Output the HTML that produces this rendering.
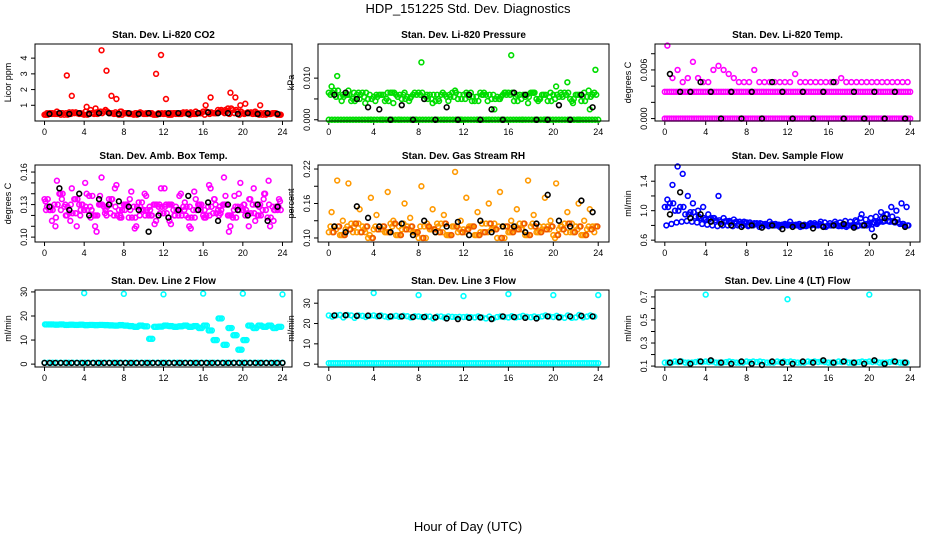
<!DOCTYPE html>
<html><head><meta charset="utf-8">
<style>
html,body{margin:0;padding:0;background:#fff;}
svg{display:block;font-family:"Liberation Sans",Arial,sans-serif;}
</style></head>
<body>
<svg id="chart" width="936" height="540" viewBox="0 0 936 540">
<text x="468" y="13" text-anchor="middle" font-size="13">HDP_151225  Std. Dev. Diagnostics</text>
<text x="468" y="531" text-anchor="middle" font-size="13">Hour of Day (UTC)</text>
</svg>
<script>
const xTicks=[0,4,8,12,16,20,24];
// Panel 1 CO2
const co2Color=[0.5,0.45,0.6,0.5,2.9,1.6,0.5,0.45,0.9,0.5,0.55,4.5,3.2,1.6,1.4,0.6,0.5,0.45,0.5,0.5,0.5,0.45,3.0,4.2,1.4,0.5,0.45,0.5,0.5,0.55,0.6,0.5,1.0,1.5,0.5,0.6,0.7,1.8,1.5,1.0,1.1,0.5,0.6,1.0,0.5,0.45,0.5,0.4];
const co2Band=[0.4,0.5,0.45,0.5,0.4,0.55,0.5,0.45,0.4,0.5,0.45,0.5,0.6,0.5,0.45,0.4,0.5,0.45,0.4,0.5,0.45,0.5,0.4,0.5,0.45,0.4,0.5,0.45,0.55,0.5,0.45,0.5,0.6,0.55,0.5,0.7,0.6,0.8,0.7,0.6,0.5,0.55,0.45,0.5,0.4,0.45,0.5,0.4];
const co2Black=[0.45,0.5,0.45,0.5,0.45,0.5,0.5,0.45,0.5,0.45,0.5,0.45,0.5,0.5,0.45,0.5,0.55,0.5,0.5,0.45,0.5,0.45,0.5,0.45];
// Panel 2 pressure
const presColor=[0.008,0.0105,0.006,0.007,0.0065,0.005,0.004,0.0,0.006,0.0,0.0065,0.004,0.0,0.0065,0.0052,0.0,0.0138,0.006,0.004,0.005,0.0,0.006,0.007,0.0,0.0065,0.0045,0.0,0.006,0.0,0.0025,0.005,0.0065,0.0155,0.006,0.0,0.004,0.0065,0.005,0.0,0.0065,0.008,0.006,0.009,0.004,0.0,0.0065,0.0025,0.012];
const presBand=[0.0065,0.007,0.0055,0.006,0.0045,0.006,0.0065,0.005,0.0055,0.006,0.0045,0.0065,0.006,0.005,0.0055,0.006,0.0065,0.005,0.006,0.0045,0.006,0.0055,0.0065,0.005,0.006,0.0055,0.0045,0.0065,0.006,0.005,0.0055,0.006,0.0065,0.0045,0.006,0.0055,0.0065,0.005,0.006,0.0045,0.006,0.0055,0.0065,0.005,0.006,0.0045,0.0055,0.006];
const presBlack=[0.006,0.0065,0.005,0.003,0.0025,0.0,0.0035,0.0,0.005,0.0,0.003,0.0,0.006,0.0,0.0025,0.0,0.0065,0.006,0.0,0.0,0.0035,0.0,0.006,0.003];
// Panel 3 Li-820 temp
const tempColor=[0.009,0.005,0.006,0.0045,0.005,0.007,0.005,0.0045,0.0045,0.006,0.0065,0.006,0.0055,0.005,0.0045,0.0045,0.0045,0.006,0.0045,0.0045,0.0045,0.0045,0.0045,0.0045,0.0045,0.0055,0.0045,0.0045,0.0045,0.0045,0.0045,0.0045,0.0045,0.0045,0.005,0.0045,0.0045,0.0045,0.0045,0.0045,0.0045,0.0045,0.0045,0.0045,0.0045,0.0045,0.0045,0.0045];
const tempBandA=[0.0033];
const tempBandB=[0.0];
const tempBlack=[0.0055,0.0033,0.0033,0.0045,0.0033,0.0,0.0033,0.0,0.0033,0.0,0.0045,0.0033,0.0,0.0033,0.0,0.0033,0.0045,0.0,0.0033,0.0,0.0033,0.0,0.0033,0.0];
// Panel 4 amb box temp
const boxColor=[0.128,0.115,0.152,0.135,0.12,0.145,0.11,0.13,0.14,0.125,0.105,0.155,0.12,0.135,0.148,0.118,0.13,0.142,0.11,0.125,0.138,0.12,0.115,0.145,0.13,0.112,0.128,0.14,0.12,0.108,0.135,0.125,0.118,0.145,0.13,0.122,0.138,0.11,0.128,0.15,0.12,0.135,0.115,0.13,0.14,0.11,0.125,0.133];
const boxBand=[0.135,0.125,0.13,0.14,0.128,0.122,0.135,0.13,0.125,0.138,0.12,0.13,0.128,0.135,0.12,0.125,0.13,0.118,0.128,0.132,0.125,0.12,0.13,0.128,0.122,0.13,0.125,0.12,0.128,0.118,0.125,0.13,0.12,0.128,0.122,0.125,0.13,0.12,0.118,0.128,0.125,0.122,0.13,0.12,0.125,0.118,0.128,0.125];
const boxBlack=[0.128,0.145,0.125,0.14,0.12,0.135,0.13,0.133,0.128,0.125,0.105,0.12,0.118,0.125,0.138,0.125,0.132,0.115,0.13,0.125,0.12,0.13,0.115,0.128];
// Panel 5 RH
const rhColor=[0.145,0.2,0.13,0.195,0.12,0.15,0.11,0.17,0.14,0.115,0.18,0.13,0.12,0.16,0.135,0.11,0.19,0.125,0.15,0.12,0.14,0.105,0.215,0.13,0.17,0.12,0.145,0.11,0.16,0.125,0.18,0.12,0.13,0.15,0.115,0.2,0.14,0.12,0.17,0.13,0.195,0.12,0.145,0.11,0.16,0.13,0.15,0.12];
const rhBand=[0.11,0.12,0.105,0.115,0.125,0.11,0.12,0.1,0.115,0.12,0.11,0.125,0.105,0.115,0.12,0.11,0.1,0.12,0.115,0.11,0.125,0.105,0.12,0.11,0.115,0.12,0.105,0.11,0.125,0.115,0.1,0.12,0.11,0.115,0.125,0.105,0.12,0.11,0.115,0.12,0.105,0.115,0.125,0.11,0.12,0.105,0.115,0.12];
const rhBlack=[0.12,0.11,0.155,0.135,0.12,0.11,0.125,0.105,0.13,0.11,0.12,0.128,0.105,0.13,0.11,0.12,0.12,0.11,0.125,0.175,0.13,0.12,0.165,0.145];
// Panel 6 sample flow
const flowColor=[1.15,1.35,1.6,1.5,1.2,1.1,1.0,1.05,0.95,0.9,1.2,0.9,0.85,0.88,0.82,0.85,0.8,0.83,0.78,0.8,0.85,0.8,0.78,0.82,0.85,0.8,0.78,0.8,0.83,0.8,0.85,0.78,0.8,0.82,0.8,0.78,0.8,0.85,0.95,0.8,0.75,0.82,0.9,0.95,0.92,0.88,0.82,0.8];
const flowBand=[1.05,1.1,1.0,1.05,0.95,0.98,0.92,0.9,0.88,0.9,0.87,0.85,0.86,0.84,0.85,0.83,0.84,0.82,0.83,0.82,0.81,0.82,0.8,0.81,0.8,0.81,0.8,0.79,0.8,0.81,0.8,0.79,0.8,0.8,0.79,0.8,0.8,0.79,0.8,0.81,0.82,0.84,0.85,0.86,0.85,0.84,0.82,0.8];
const flowBlack=[0.95,1.25,0.9,0.95,0.85,0.82,0.8,0.78,0.8,0.77,0.8,0.75,0.78,0.8,0.76,0.78,0.8,0.82,0.77,0.8,0.65,0.9,0.85,0.78];
// Panel 7 line 2
const l2Color=[16.5,16.5,16.4,16.5,16.3,16.4,16.3,16.4,16.2,16.3,16.2,16.3,16.2,16.1,16,16.2,16,15.8,15.5,16,15.7,10.5,15.5,15.6,16,15.8,15.5,15.7,16,15.5,15.8,15,16,14,10,19,8,15,12,6,10,16,15,16,15.5,16,15,15.5];
const l2Out=[4,8,12,16,20,24];
const l2OutVal=[29.5,29.2,29,29.3,29.3,29];
const l2Black=[0.5];
// Panel 8 line 3
const l3Color=[24,24.2,24,23.8,24,23.5,23.8,23.6,23.5,23.4,23.5,23.3,23.2,23,22.5,23.2,23,23.3,23.1,23.5,23.2,22.8,23,23.4];
const l3OutVal=[35,34,33.5,34.5,34,34];
const l3Black=[24,24.1,23.8,23.9,23.7,23.5,23.5,23.2,23.2,23,22.5,22.2,22.8,23,22.2,23.5,23.2,22.8,22.5,23.5,23,23.5,23.8,23.5];
const l3Zero=[0.5];
// Panel 9 line 4
const l4Color=[0.13,0.14,0.13,0.135,0.14,0.13,0.135,0.13,0.14,0.135,0.13,0.14,0.135,0.13,0.14,0.135,0.13,0.14,0.13,0.135,0.14,0.13,0.135,0.13];
const l4OutHours=[4,12,20];
const l4OutVal=[0.72,0.68,0.72];
const l4Black=[0.13,0.14,0.12,0.14,0.15,0.13,0.12,0.14,0.12,0.11,0.14,0.13,0.12,0.14,0.13,0.15,0.13,0.14,0.13,0.12,0.15,0.12,0.14,0.13];

const svg=document.getElementById('chart');
const NS='http://www.w3.org/2000/svg';
function mk(tag,attrs,parent){const e=document.createElementNS(NS,tag);for(const k in attrs)e.setAttribute(k,attrs[k]);(parent||svg).appendChild(e);return e;}

const cols=[[35,292],[318,609],[655,920]];
const rows=[[44,121],[165,242],[290,367]];
const panels=[
 {t:'Stan. Dev. Li-820 CO2',yl:'Licor ppm',c:0,r:0,y0:0,y1:4.9,ticks:[1,2,3,4],labels:['1','2','3','4'],col:'#ff0000'},
 {t:'Stan. Dev. Li-820 Pressure',yl:'kPa',c:1,r:0,y0:-0.0003,y1:0.0182,ticks:[0,0.005,0.010],labels:['0.000','','0.010'],col:'#00dd00'},
 {t:'Stan. Dev. Li-820 Temp.',yl:'degrees C',c:2,r:0,y0:-0.0003,y1:0.0092,ticks:[0,0.002,0.004,0.006,0.008],labels:['0.000','','','0.006',''],col:'#ff00ff'},
 {t:'Stan. Dev. Amb. Box Temp.',yl:'degrees C',c:0,r:1,y0:0.0955,y1:0.1665,ticks:[0.10,0.11,0.12,0.13,0.14,0.15,0.16],labels:['0.10','','','0.13','','','0.16'],col:'#ff00ff'},
 {t:'Stan. Dev. Gas Stream RH',yl:'percent',c:1,r:1,y0:0.093,y1:0.227,ticks:[0.10,0.13,0.16,0.19,0.22],labels:['0.10','','0.16','','0.22'],col:'#ff9900'},
 {t:'Stan. Dev. Sample Flow',yl:'ml/min',c:2,r:1,y0:0.575,y1:1.62,ticks:[0.6,0.8,1.0,1.2,1.4],labels:['0.6','','1.0','','1.4'],col:'#0000ff'},
 {t:'Stan. Dev. Line 2 Flow',yl:'ml/min',c:0,r:2,y0:-1.2,y1:30.8,ticks:[0,10,20,30],labels:['0','10','20','30'],col:'#00ffff'},
 {t:'Stan. Dev. Line 3 Flow',yl:'ml/min',c:1,r:2,y0:-1.4,y1:36.5,ticks:[0,10,20,30],labels:['0','10','20','30'],col:'#00ffff'},
 {t:'Stan. Dev. Line 4 (LT) Flow',yl:'ml/min',c:2,r:2,y0:0.092,y1:0.76,ticks:[0.1,0.2,0.3,0.4,0.5,0.6,0.7],labels:['0.1','','0.3','','0.5','','0.7'],col:'#00ffff'}
];
panels.forEach((p,pi)=>{
 const [L,R]=cols[p.c],[T,B]=rows[p.r];
 p.sx=h=>L+(R-L)*(h+0.96)/25.92;
 p.sy=v=>B-(B-T)*(v-p.y0)/(p.y1-p.y0);
 const g=mk('g',{});
 
 
 p.g=g;
 const tt=mk('text',{x:(L+R)/2,y:T-6,'text-anchor':'middle','font-size':10,'font-weight':'bold'},g);tt.textContent=p.t;
 
 
 const yt=mk('text',{transform:`translate(${L-24},${(T+B)/2}) rotate(-90)`,'text-anchor':'middle','font-size':9},g);yt.textContent=p.yl;
 
 
 xTicks.forEach(h=>{const x=p.sx(h);mk('line',{x1:x,x2:x,y1:B,y2:B+4,stroke:'#000'},g);
  const t=mk('text',{x:x,y:B+14,'text-anchor':'middle','font-size':9},g);t.textContent=h;
  
  });
 p.ticks.forEach((v,i)=>{const y=p.sy(v);mk('line',{x1:L-4,x2:L,y1:y,y2:y,stroke:'#000'},g);
  if(p.labels[i]){const t=mk('text',{transform:`translate(${L-8},${y}) rotate(-90)`,'text-anchor':'middle','font-size':9},g);t.textContent=p.labels[i];
  
  }});
});
function pts(p,hours,vals,color,name){
 hours.forEach((h,i)=>{
  const c=mk('circle',{cx:p.sx(h),cy:p.sy(vals[i]),r:2.4,fill:'none',stroke:color,'stroke-width':1.6},p.g);
  
  
 });
}
function series(p,vals,color,name,off){
 const n=vals.length;const hrs=vals.map((v,i)=>24*(i+(off===undefined?0.5:off))/n);pts(p,hrs,vals,color,name);
}
function dense(p,band,color,name){
 series(p,band,color,name,0.0);
 series(p,band.slice().reverse(),color,name,0.3);
 series(p,band,color,name,0.65);
}
function band(p,val,color,name,n){
 const hrs=[],vs=[];for(let i=0;i<n;i++){hrs.push(24*i/(n-1));vs.push(val);}pts(p,hrs,vs,color,name);
}
const P=panels;
dense(P[0],co2Band,P[0].col,'co2-point');series(P[0],co2Color,P[0].col,'co2-point');series(P[0],co2Black,'#000','co2-black-point');
dense(P[1],presBand,P[1].col,'pressure-point');series(P[1],presColor,P[1].col,'pressure-point');band(P[1],0,P[1].col,'pressure-point',90);series(P[1],presBlack,'#000','pressure-black-point');
band(P[2],tempBandA[0],P[2].col,'temp-point',110);band(P[2],tempBandB[0],P[2].col,'temp-point',110);series(P[2],tempColor,P[2].col,'temp-point');series(P[2],tempBlack,'#000','temp-black-point');
dense(P[3],boxBand,P[3].col,'box-temp-point');series(P[3],boxColor,P[3].col,'box-temp-point');series(P[3],boxColor.slice().reverse(),P[3].col,'box-temp-point',0.2);series(P[3],boxBlack,'#000','box-temp-black-point');
dense(P[4],rhBand,P[4].col,'rh-point');series(P[4],rhColor,P[4].col,'rh-point');series(P[4],rhBand,'#ee5500','rh-point',0.85);series(P[4],rhBlack,'#000','rh-black-point');
dense(P[5],flowBand,P[5].col,'flow-point');series(P[5],flowColor,P[5].col,'flow-point');series(P[5],flowBlack,'#000','flow-black-point');
band(P[6],0.6,P[6].col,'line2-point',60);series(P[6],l2Color,P[6].col,'line2-point',0.1);series(P[6],l2Color,P[6].col,'line2-point',0.4);series(P[6],l2Color,P[6].col,'line2-point',0.75);pts(P[6],l2Out,l2OutVal,P[6].col,'line2-outlier');band(P[6],l2Black[0],'#000','line2-black-point',45);
band(P[7],l3Zero[0],P[7].col,'line3-point',120);dense(P[7],l3Color,P[7].col,'line3-point');pts(P[7],l2Out,l3OutVal,P[7].col,'line3-outlier');series(P[7],l3Black,'#000','line3-black-point');
dense(P[8],l4Color,P[8].col,'line4-point');pts(P[8],l4OutHours,l4OutVal,P[8].col,'line4-outlier');series(P[8],l4Black,'#000','line4-black-point');
panels.forEach(p=>{const [L,R]=cols[p.c],[T,B]=rows[p.r];const b=mk('rect',{x:L,y:T,width:R-L,height:B-T,fill:'none',stroke:'#000'},p.g);
 
 });
</script>
</body></html>
